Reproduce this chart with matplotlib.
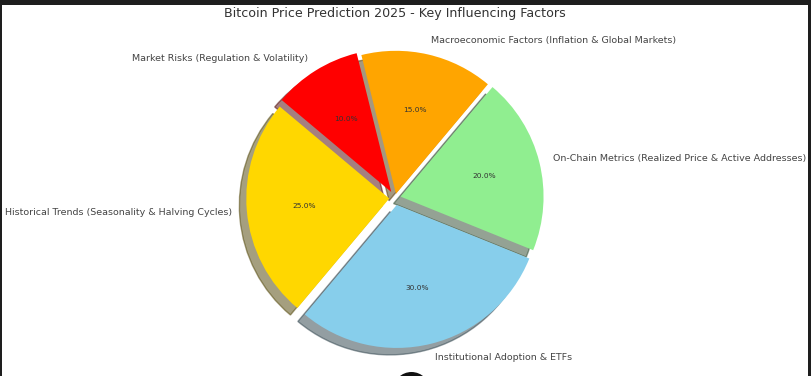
import matplotlib.pyplot as plt
from matplotlib.patches import Rectangle, Ellipse

labels = ['Historical Trends (Seasonality & Halving Cycles)',
          'Institutional Adoption & ETFs',
          'On-Chain Metrics (Realized Price & Active Addresses)',
          'Macroeconomic Factors (Inflation & Global Markets)',
          'Market Risks (Regulation & Volatility)']
sizes = [25, 30, 20, 15, 10]
colors = ['gold', 'skyblue', 'lightgreen', 'orange', 'red']
explode = [0.04, 0.05, 0.04, 0.03, 0.05]

W, H = 811, 376
fig = plt.figure(figsize=(W / 100, H / 100), dpi=100, facecolor='#1e1e1e')
# white page inside the dark screenshot frame
fig.patches.append(Rectangle((2 / W, 0), 806 / W, 371 / H, transform=fig.transFigure,
                             facecolor='white', edgecolor='none', zorder=-10))

ax = fig.add_axes([0, 0, 1, 1])
ax.set_facecolor('none')
wedges, texts, autotexts = ax.pie(sizes, labels=labels, colors=colors, explode=explode,
                                  autopct='%1.1f%%', startangle=140,
                                  shadow={'ox': -0.035, 'oy': -0.035},
                                  textprops={'fontsize': 6.8, 'color': '#444444'})
for t in autotexts:
    t.set_fontsize(5.3)
    t.set_color('#333333')

# center of pie at (395, 198) px, radius 143 px
r = 143.0
cx, cy = 395, H - 198
ax.set_aspect('auto')
ax.set_xlim(-cx / r, (W - cx) / r)
ax.set_ylim(-cy / r, (H - cy) / r)
ax.axis('off')

fig.text(395 / W, 1 - 14 / H, 'Bitcoin Price Prediction 2025 - Key Influencing Factors',
         ha='center', va='center', fontsize=9.1, color='#333333')

# round button overlapping the bottom edge of the screenshot
fig.patches.append(Ellipse((411.5 / W, 1 - 390.5 / H), 37 / W, 37 / H, transform=fig.transFigure,
                           facecolor='#111111', edgecolor='none', zorder=5))

fig.savefig('out.png', dpi=100, facecolor=fig.get_facecolor())
